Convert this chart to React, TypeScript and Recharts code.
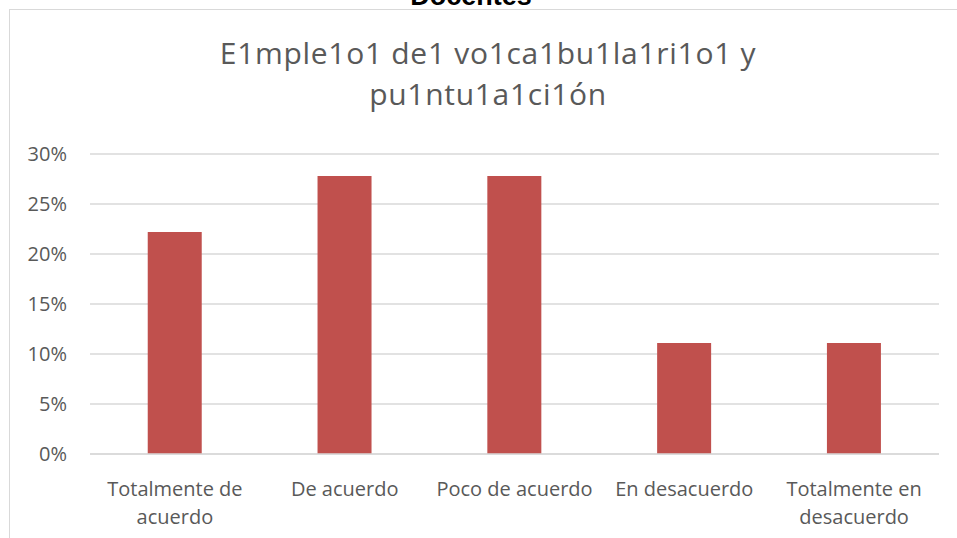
import React from "react";
import { BarChart, Bar, XAxis, YAxis, CartesianGrid } from "recharts";

const categories = [
  "Totalmente de acuerdo",
  "De acuerdo",
  "Poco de acuerdo",
  "En desacuerdo",
  "Totalmente en desacuerdo",
];
const tickLabels = [
  ["Totalmente de", "acuerdo"],
  ["De acuerdo"],
  ["Poco de acuerdo"],
  ["En desacuerdo"],
  ["Totalmente en", "desacuerdo"],
];
const values = [22.2, 27.8, 27.8, 11.1, 11.1];
const yTicks = [0, 5, 10, 15, 20, 25, 30];
const titleLines = ["E1mple1o1 de1 vo1ca1bu1la1ri1o1 y", "pu1ntu1a1ci1ón"];
const headerText = "Docentes";

const data = categories.map((c, i) => ({ name: c, value: values[i], idx: i }));

const FONT = "'Open Sans', sans-serif";
const GREY = "#595959";

const XTick = (props: any) => {
  const { x, y, index } = props;
  const lines = tickLabels[index] || [];
  return (
    <text x={x} y={y} textAnchor="middle" fill={GREY} fontFamily={FONT} fontSize={20}>
      {lines.map((l, i) => (
        <tspan key={i} x={x} y={y + 34 + i * 28}>
          {l}
        </tspan>
      ))}
    </text>
  );
};

export default function App() {
  return (
    <div
      style={{
        position: "absolute",
        left: 0,
        top: 0,
        width: 957,
        height: 538,
        overflow: "hidden",
        background: "#fff",
      }}
    >
      <div
        style={{
          position: "absolute",
          left: 9,
          top: 9,
          width: 1000,
          height: 600,
          borderLeft: "1px solid #d9d9d9",
          borderTop: "1px solid #d9d9d9",
        }}
      />
      <svg width={957} height={140} style={{ position: "absolute", left: 0, top: 0 }}>
        <text
          x={471}
          y={5}
          textAnchor="middle"
          fontFamily="'Liberation Sans', Arial, sans-serif"
          fontWeight="bold"
          fontSize={27}
          fill="#000"
        >
          {headerText}
        </text>
        <text
          x={488}
          y={64}
          textAnchor="middle"
          fontFamily={FONT}
          fontSize={30}
          letterSpacing={0.7}
          fill={GREY}
        >
          {titleLines[0]}
        </text>
        <text
          x={488}
          y={105}
          textAnchor="middle"
          fontFamily={FONT}
          fontSize={30}
          letterSpacing={0.7}
          fill={GREY}
        >
          {titleLines[1]}
        </text>
      </svg>
      <div style={{ position: "absolute", left: 0, top: 0 }}>
        <BarChart
          width={957}
          height={538}
          data={data}
          margin={{ top: 154, right: 18, bottom: 0, left: 0 }}
          barCategoryGap="34%"
        >
          <CartesianGrid vertical={false} stroke="#d9d9d9" strokeWidth={1.3} />
          <XAxis
            dataKey="name"
            height={84}
            axisLine={{ stroke: "#d9d9d9", strokeWidth: 1.3 }}
            tickLine={false}
            interval={0}
            tick={<XTick />}
          />
          <YAxis
            width={90}
            domain={[0, 30]}
            ticks={yTicks}
            axisLine={false}
            tickLine={false}
            tickSize={0}
            tickMargin={23}
            tickFormatter={(v: number) => `${v}%`}
            tick={{ fill: GREY, fontFamily: FONT, fontSize: 20 }}
          />
          <Bar dataKey="value" fill="#c0504d" isAnimationActive={false} />
        </BarChart>
      </div>
    </div>
  );
}
